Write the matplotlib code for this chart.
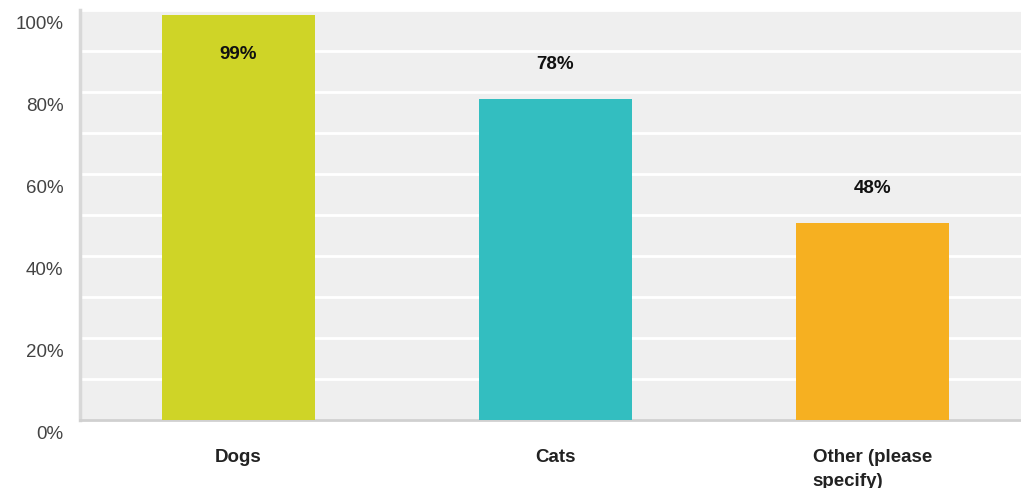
import matplotlib.pyplot as plt
import matplotlib.transforms as mtransforms

# answer shares
categories = ['Dogs', 'Cats', 'Other (please\nspecify)']
values = [98.8, 78.3, 48.0]
labels = ['99%', '78%', '48%']
colors = ['#cfd427', '#33bec0', '#f6b021']
yticks = [0, 20, 40, 60, 80, 100]

fig = plt.figure(figsize=(10.21, 4.88), dpi=100)
ax = fig.add_axes([80 / 1021, 68 / 488, 951 / 1021, 410 / 488])
ax.set_facecolor('#efefef')

x = range(len(categories))
ax.bar(x, values, width=0.48, color=colors, zorder=3)

# value labels sit above the bar, or inside it when there is no room
for i, (v, lab) in enumerate(zip(values, labels)):
    ax.text(i, min(v + 8.5, 89.2), lab, ha='center', va='center',
            fontsize=13.5, fontweight='bold', color='#111111',
            family='Liberation Sans', zorder=4)

ax.set_xlim(-0.5, 2.5)
ax.set_ylim(0, 100)

ax.set_yticks(yticks)
ax.set_yticks(range(10, 100, 20), minor=True)
ax.set_yticklabels([f'{t}%' for t in yticks])
ax.yaxis.grid(True, which='both', color='white', linewidth=2, zorder=1)
ax.set_axisbelow(True)

ax.set_xticks(list(x))
ax.set_xticklabels(categories, fontweight='bold', multialignment='left',
                   linespacing=1.5)

ax.tick_params(axis='both', which='both', length=0)
ax.tick_params(axis='y', labelsize=13.5, labelcolor='#444444', pad=12)
ax.tick_params(axis='x', labelsize=13.5, labelcolor='#222222', pad=21)
for t in ax.get_xticklabels() + ax.get_yticklabels():
    t.set_family('Liberation Sans')

# y labels sit a little below their gridline
offset = mtransforms.ScaledTranslation(0, -9 / 72, fig.dpi_scale_trans)
for t in ax.get_yticklabels():
    t.set_transform(t.get_transform() + offset)

for side in ['top', 'right']:
    ax.spines[side].set_visible(False)
ax.spines['left'].set_color('#d8d8d8')
ax.spines['left'].set_linewidth(2.5)
ax.spines['bottom'].set_color('#d0d0d0')
ax.spines['bottom'].set_linewidth(2)

fig.savefig('out.png', dpi=100)
